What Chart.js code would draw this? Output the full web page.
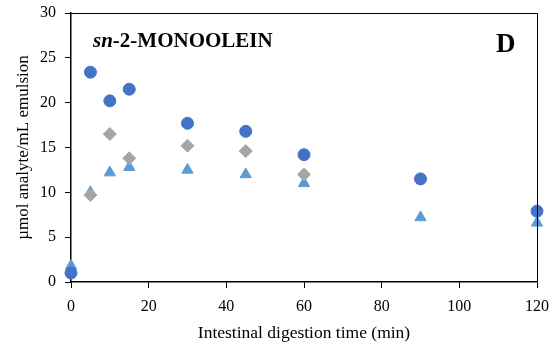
<!DOCTYPE html>
<html lang="en">
<head>
  <meta charset="UTF-8" />
  <title>sn-2-Monoolein</title>
  <script src="https://cdn.jsdelivr.net/npm/chart.js"></script>
</head>
<style>
  body { margin: 0; background: #fff; }
  #grafico { width: 555px !important; height: 351px !important; }
</style>
<body>
  <canvas id="grafico" width="555" height="351"></canvas>
  <script>
    // digestion times (min) and values per series
    const timesCircle = [0, 5, 10, 15, 30, 45, 60, 90, 120];
    const circle = [1.0, 23.4, 20.2, 21.5, 17.7, 16.8, 14.2, 11.5, 7.9];
    const timesDiamond = [5, 10, 15, 30, 45, 60];
    const diamond = [9.7, 16.5, 13.8, 15.2, 14.6, 12.0];
    const timesTriangle = [0, 5, 10, 15, 30, 45, 60, 90, 120];
    const triangle = [1.8, 10.0, 12.2, 12.8, 12.5, 12.0, 11.0, 7.2, 6.6];

    const toPts = (xs, ys) => xs.map((x, i) => ({ x: x, y: ys[i] }));
    const serif = "'Liberation Serif', 'Times New Roman', serif";

    // box lines on top/right + the text labels inside the plot
    const extras = {
      id: 'extras',
      afterDraw(chart) {
        const { ctx, chartArea: a } = chart;
        ctx.save();
        ctx.strokeStyle = '#000';
        ctx.lineWidth = 1;
        ctx.beginPath();
        ctx.moveTo(a.left, a.top + 0.5);
        ctx.lineTo(a.right + 0.5, a.top + 0.5);
        ctx.lineTo(a.right + 0.5, a.bottom);
        ctx.stroke();

        ctx.fillStyle = '#000';
        ctx.textBaseline = 'alphabetic';
        ctx.font = 'italic bold 21px ' + serif;
        ctx.fillText('sn', 93, 47);
        const w = ctx.measureText('sn').width;
        ctx.font = 'bold 21px ' + serif;
        ctx.fillText('-2-MONOOLEIN', 93 + w, 47);
        ctx.font = 'bold 27px ' + serif;
        ctx.fillText('D', 496, 52);
        ctx.restore();
      }
    };

    new Chart(document.getElementById('grafico'), {
      type: 'scatter',
      data: {
        datasets: [
          {
            label: 'circle',
            data: toPts(timesCircle, circle),
            pointStyle: 'circle',
            pointRadius: 6,
            borderWidth: 1,
            clip: false,
            backgroundColor: '#4472C4',
            borderColor: '#4472C4'
          },
          {
            label: 'diamond',
            data: toPts(timesDiamond, diamond),
            pointStyle: 'rectRot',
            pointRadius: 6.5,
            borderWidth: 1,
            clip: false,
            backgroundColor: '#A5A5A5',
            borderColor: '#A5A5A5'
          },
          {
            label: 'triangle',
            data: toPts(timesTriangle, triangle),
            pointStyle: 'triangle',
            pointRadius: 6.5,
            borderWidth: 1,
            clip: false,
            backgroundColor: '#5B9BD5',
            borderColor: '#5B9BD5'
          }
        ]
      },
      options: {
        responsive: false,
        animation: false,
        layout: { padding: { top: 13, right: 18, left: 0, bottom: 0 } },
        plugins: { legend: { display: false }, tooltip: { enabled: false } },
        scales: {
          x: {
            type: 'linear',
            min: 0, max: 120,
            afterFit: s => { s.height = 69; s.paddingLeft = 0; s.paddingRight = 0; },
            border: { color: '#000', width: 1.5 },
            grid: { drawOnChartArea: false, tickLength: 6, color: '#000' },
            ticks: { stepSize: 20, color: '#000', font: { family: serif, size: 16 }, padding: 9 },
            title: { display: true, text: 'Intestinal digestion time (min)', color: '#000', font: { family: serif, size: 17.5 }, padding: { top: 0, bottom: 7 } }
          },
          y: {
            min: 0, max: 30,
            afterFit: s => { s.width = 71; s.paddingTop = 0; s.paddingBottom = 0; },
            border: { color: '#000', width: 1.5 },
            grid: { drawOnChartArea: false, tickLength: 6, color: '#000' },
            ticks: { stepSize: 5, color: '#000', font: { family: serif, size: 16 }, padding: 9 },
            title: { display: true, text: 'µmol analyte/mL emulsion', color: '#000', font: { family: serif, size: 17 }, padding: { top: 13, bottom: 4 } }
          }
        }
      },
      plugins: [extras]
    });
  </script>
</body>
</html>
